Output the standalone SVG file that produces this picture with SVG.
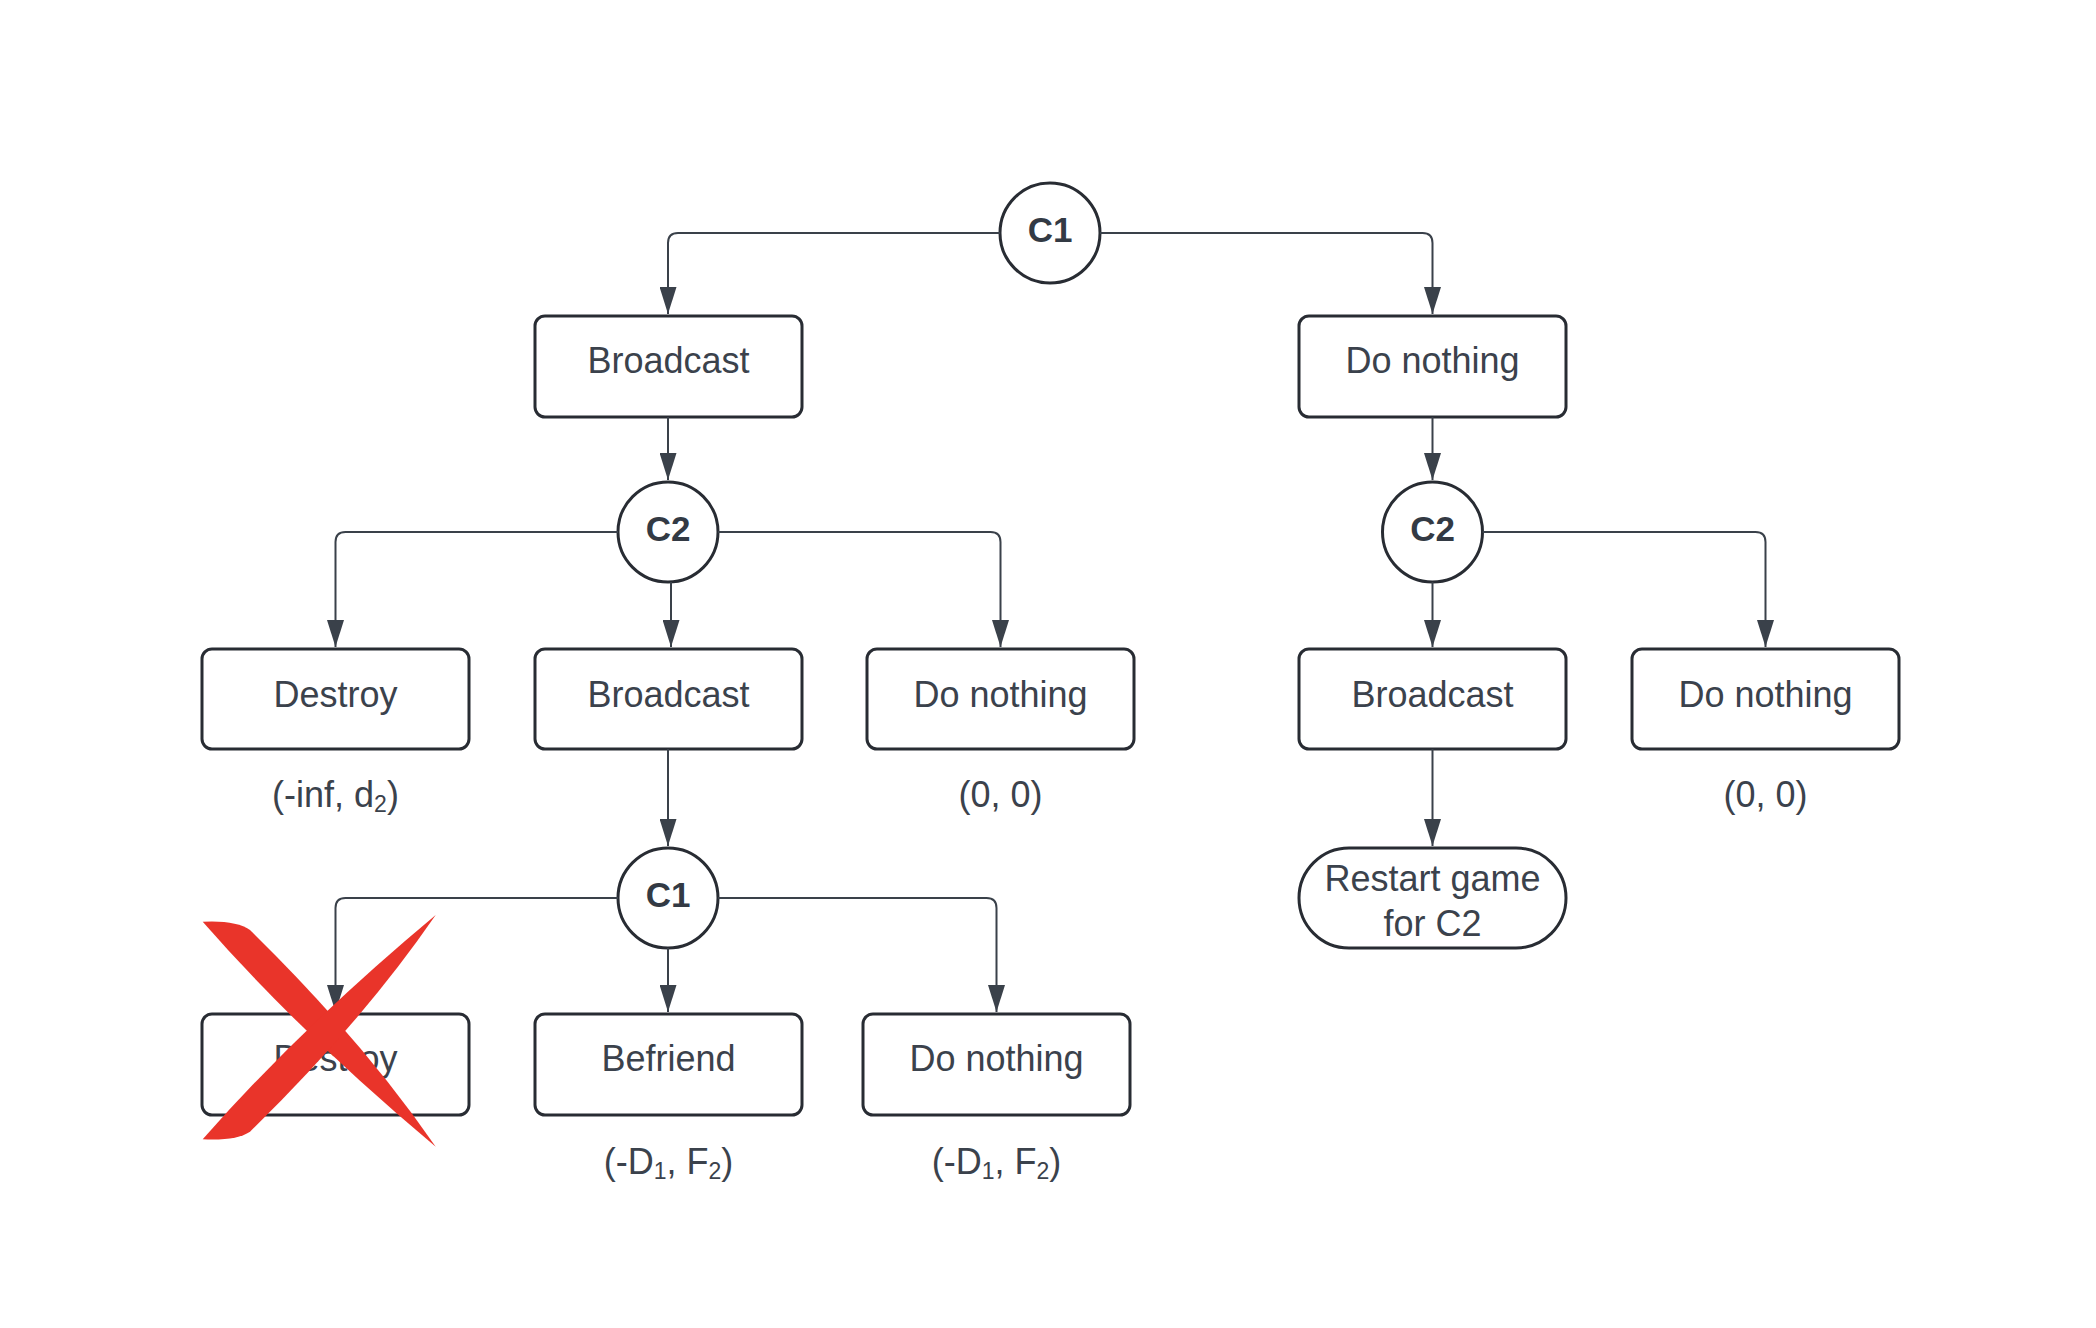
<svg xmlns="http://www.w3.org/2000/svg" width="2096" height="1328" viewBox="0 0 2096 1328">
<defs>
<style>
.box{fill:#ffffff;stroke:#282c33;stroke-width:3}
.chance{fill:#ffffff;stroke:#282c33;stroke-width:3}
.t{font-family:"Liberation Sans",Arial,sans-serif;font-size:36px;fill:#3b424c;text-anchor:middle}
.c{font-family:"Liberation Sans",Arial,sans-serif;font-size:35px;font-weight:bold;fill:#333a44;text-anchor:middle}
.sub{font-size:23px}
.conn{fill:none;stroke:#3a414a;stroke-width:2;marker-end:url(#arrow)}
.cross{fill:#e9342a}
</style>
<marker id="arrow" viewBox="0 0 27 17" refX="27" refY="8.5" markerWidth="27" markerHeight="17" markerUnits="userSpaceOnUse" orient="auto">
<path d="M0,0 L27,8.5 L0,17 Z" fill="#3a414a"/>
</marker>
</defs>
<rect width="2096" height="1328" fill="#ffffff"/>

<g id="c1-top"><circle class="chance" cx="1050" cy="233" r="50"/><text class="c" x="1050" y="242">C1</text></g>
<g id="broadcast-1"><rect class="box" x="535" y="316" width="267" height="101" rx="10"/><text class="t" x="668.5" y="373">Broadcast</text></g>
<g id="donothing-1"><rect class="box" x="1299" y="316" width="267" height="101" rx="10"/><text class="t" x="1432.5" y="373">Do nothing</text></g>

<g id="c2-left"><circle class="chance" cx="668" cy="532" r="50"/><text class="c" x="668" y="541">C2</text></g>
<g id="c2-right"><circle class="chance" cx="1432.5" cy="532" r="50"/><text class="c" x="1432.5" y="541">C2</text></g>

<g id="destroy-2"><rect class="box" x="202" y="649" width="267" height="100" rx="10"/><text class="t" x="335.5" y="706.5">Destroy</text></g>
<g id="broadcast-2"><rect class="box" x="535" y="649" width="267" height="100" rx="10"/><text class="t" x="668.5" y="706.5">Broadcast</text></g>
<g id="donothing-2"><rect class="box" x="867" y="649" width="267" height="100" rx="10"/><text class="t" x="1000.5" y="706.5">Do nothing</text></g>
<g id="broadcast-2r"><rect class="box" x="1299" y="649" width="267" height="100" rx="10"/><text class="t" x="1432.5" y="706.5">Broadcast</text></g>
<g id="donothing-2r"><rect class="box" x="1632" y="649" width="267" height="100" rx="10"/><text class="t" x="1765.5" y="706.5">Do nothing</text></g>

<g id="label-destroy-2"><text class="t" x="335.5" y="807">(-inf, d<tspan class="sub" dy="5">2</tspan><tspan dy="-5">)</tspan></text></g>
<g id="label-donothing-2"><text class="t" x="1000.5" y="807">(0, 0)</text></g>
<g id="label-donothing-2r"><text class="t" x="1765.5" y="807">(0, 0)</text></g>

<g id="c1-lower"><circle class="chance" cx="668" cy="898" r="50"/><text class="c" x="668" y="907">C1</text></g>
<g id="restart"><rect class="box" x="1299" y="848" width="267" height="100" rx="50"/><text class="t" x="1432.5" y="891">Restart game</text><text class="t" x="1432.5" y="936">for C2</text></g>

<g id="destroy-3"><rect class="box" x="202" y="1014" width="267" height="101" rx="10"/><text class="t" x="335.5" y="1071">Destroy</text></g>
<g id="befriend-3"><rect class="box" x="535" y="1014" width="267" height="101" rx="10"/><text class="t" x="668.5" y="1071">Befriend</text></g>
<g id="donothing-3"><rect class="box" x="863" y="1014" width="267" height="101" rx="10"/><text class="t" x="996.5" y="1071">Do nothing</text></g>

<g id="label-befriend-3"><text class="t" x="668.5" y="1174">(-D<tspan class="sub" dy="5">1</tspan><tspan dy="-5">, F</tspan><tspan class="sub" dy="5">2</tspan><tspan dy="-5">)</tspan></text></g>
<g id="label-donothing-3"><text class="t" x="996.5" y="1174">(-D<tspan class="sub" dy="5">1</tspan><tspan dy="-5">, F</tspan><tspan class="sub" dy="5">2</tspan><tspan dy="-5">)</tspan></text></g>

<g id="connectors">
<path class="conn" d="M1000,233 H678 Q668,233 668,243 V314"/>
<path class="conn" d="M1100,233 H1422.5 Q1432.5,233 1432.5,243 V314"/>
<path class="conn" d="M668,417 V480"/>
<path class="conn" d="M1432.5,417 V480"/>
<path class="conn" d="M618,532 H345.5 Q335.5,532 335.5,542 V647"/>
<path class="conn" d="M671,582 V647"/>
<path class="conn" d="M718,532 H990.5 Q1000.5,532 1000.5,542 V647"/>
<path class="conn" d="M1432.5,582 V647"/>
<path class="conn" d="M1482.5,532 H1755.5 Q1765.5,532 1765.5,542 V647"/>
<path class="conn" d="M668,749 V846"/>
<path class="conn" d="M1432.5,749 V846"/>
<path class="conn" d="M618,898 H345.5 Q335.5,898 335.5,908 V1012"/>
<path class="conn" d="M668,948 V1012"/>
<path class="conn" d="M718,898 H986.5 Q996.5,898 996.5,908 V1012"/>
</g>

<g id="red-cross">
<path class="cross" d="M202.7,921.7 Q236,920 250,930 Q360.9,1038.4 435.7,1146.7 Q301.2,1034.2 202.7,921.7 Z"/>
<path class="cross" d="M202.7,1139.3 Q301.2,1027.2 435.7,915 Q360.9,1023.4 250,1131.7 Q236,1141 202.7,1139.3 Z"/>
</g>
</svg>
